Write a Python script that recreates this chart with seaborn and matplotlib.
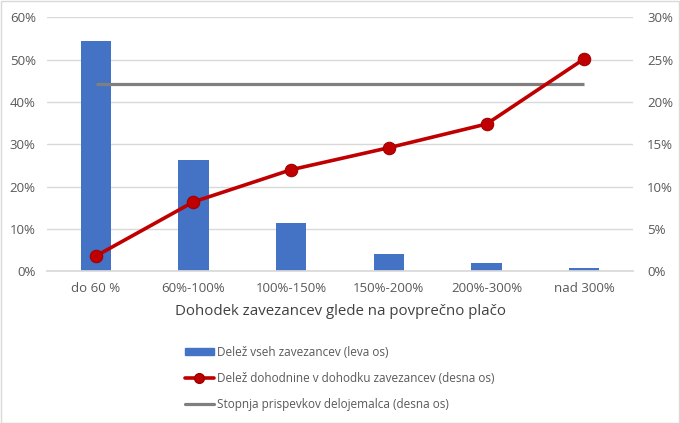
import matplotlib
matplotlib.use("Agg")
import matplotlib.pyplot as plt
import seaborn as sns
import pandas as pd
from matplotlib.ticker import PercentFormatter
from matplotlib.patches import Patch
from matplotlib.lines import Line2D

categories = ["do 60 %", "60%-100%", "100%-150%", "150%-200%", "200%-300%", "nad 300%"]
delez_zavezancev = [54.4, 26.4, 11.5, 4.2, 2.0, 0.7]          # left axis, %
delez_dohodnine = [1.8, 8.2, 12.0, 14.6, 17.4, 25.1]          # right axis, %
stopnja_prispevkov = [22.1, 22.1, 22.1, 22.1, 22.1, 22.1]      # right axis, %

legend_labels = [
    "Delež vseh zavezancev (leva os)",
    "Delež dohodnine v dohodku zavezancev (desna os)",
    "Stopnja prispevkov delojemalca (desna os)",
]
x_label = "Dohodek zavezancev glede na povprečno plačo"

sns.set_theme(style="white")
plt.rcParams["font.family"] = ["Open Sans", "DejaVu Sans"]
text_col = "#595959"
blue = "#4472C4"
red = "#C00000"
gray = "#7F7F7F"

df = pd.DataFrame({"cat": categories, "bars": delez_zavezancev,
                   "line": delez_dohodnine, "rate": stopnja_prispevkov})

fig = plt.figure(figsize=(6.8, 4.23), dpi=100)
fig.patch.set_facecolor("white")
ax = fig.add_axes([0.069, 0.3586, 0.862, 0.6004])

sns.barplot(data=df, x="cat", y="bars", color=blue, width=0.31, ax=ax,
            saturation=1, linewidth=0, zorder=2)
ax.set_ylim(0, 60)
ax.set_yticks(range(0, 61, 10))
ax.yaxis.set_major_formatter(PercentFormatter(decimals=0))
ax.grid(axis="y", color="#D9D9D9", linewidth=1, zorder=0)
ax.set_axisbelow(True)
ax.set_xlim(-0.5, 5.5)

ax2 = ax.twinx()
sns.lineplot(x=list(range(len(categories))), y=stopnja_prispevkov, color=gray,
             linewidth=2.3, solid_capstyle="butt", ax=ax2, zorder=3)
sns.lineplot(x=list(range(len(categories))), y=delez_dohodnine, color=red,
             linewidth=2.6, marker="o", markersize=9, markeredgecolor="#9E0000",
             markerfacecolor=red, ax=ax2, zorder=4)
ax2.set_ylim(0, 30)
ax2.set_yticks(range(0, 31, 5))
ax2.yaxis.set_major_formatter(PercentFormatter(decimals=0))
ax2.set_xlim(-0.5, 5.5)

for a in (ax, ax2):
    for s in a.spines.values():
        s.set_visible(False)
    a.tick_params(length=0, labelsize=9.5, labelcolor=text_col)
    a.set_ylabel("")

ax.spines["bottom"].set_visible(True)
ax.spines["bottom"].set_color("#D9D9D9")
ax.tick_params(axis="x", pad=8)
ax.tick_params(axis="y", pad=8)
ax2.tick_params(axis="y", pad=10)
ax.set_xlabel(x_label, fontsize=10.8, color="#404040", labelpad=6)

handles = [
    Patch(facecolor=blue, edgecolor=blue),
    Line2D([0], [0], color=red, linewidth=2.6, marker="o", markersize=7,
           markerfacecolor=red, markeredgecolor="#9E0000"),
    Line2D([0], [0], color=gray, linewidth=2.3),
]
fig.legend(handles, legend_labels, loc="upper left", bbox_to_anchor=(0.272, 0.182),
           frameon=False, fontsize=8.5, labelcolor=text_col, handlelength=2.45,
           handleheight=0.5, handletextpad=0.3, labelspacing=1.1, borderaxespad=0,
           borderpad=0)

fig.add_artist(plt.Rectangle((0.001, 0.001), 0.997, 0.997, transform=fig.transFigure,
                             fill=False, edgecolor="#D9D9D9", linewidth=1))

fig.savefig("out.png", dpi=100, facecolor="white")
